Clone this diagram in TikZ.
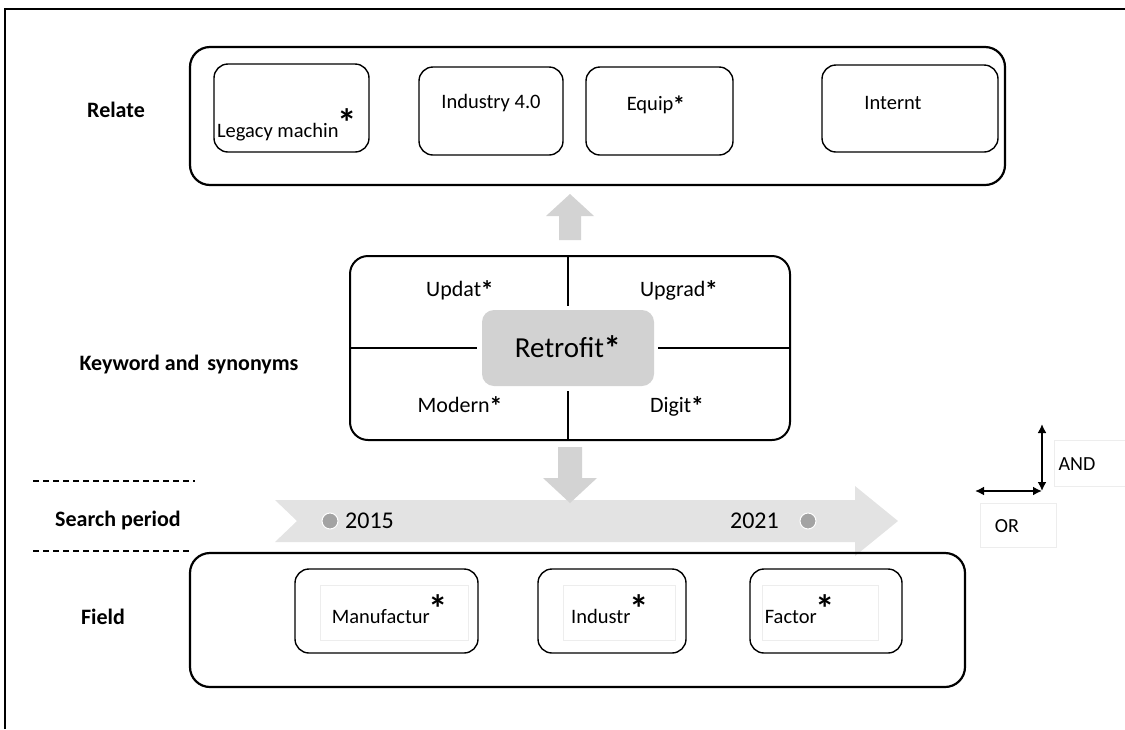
\documentclass[tikz,border=0pt]{standalone}
\usepackage{fontspec}
\setmainfont{Carlito}
\usetikzlibrary{calc,arrows.meta}
\definecolor{arrowgray}{HTML}{D3D3D3}
\definecolor{bandgray}{HTML}{E3E3E3}
\definecolor{retrogray}{HTML}{D2D2D2}
\definecolor{dotgray}{HTML}{A3A3A3}
\definecolor{faint}{HTML}{EDEDED}
\tikzset{
  outerbox/.style={draw, line width=2.2pt, rounded corners=20pt, inner sep=0pt},
  innerbox/.style={draw, line width=1.4pt, rounded corners=14pt, inner sep=0pt},
  faintbox/.style={draw=faint, line width=1pt, inner sep=0pt},
  lbl/.style={font=\fontsize{22}{26}\selectfont\bfseries, inner sep=0pt},
  word/.style={font=\fontsize{20.5}{24}\selectfont, inner sep=0pt},
  kwword/.style={font=\fontsize{22}{26}\selectfont, inner sep=0pt},
  divider/.style={line width=1.6pt},
  blockarrow/.style={fill=arrowgray, draw=none},
  dashline/.style={line width=1.2pt, dash pattern=on 6pt off 4pt},
  dot/.style={circle, fill=dotgray, draw=white, line width=1pt, minimum size=16pt, inner sep=0pt},
  opArrow/.style={<->, >={Latex[length=9pt,width=9pt]}, line width=2pt},
}
\newcommand{\bigst}{\kern-1pt\raisebox{1pt}{\bfseries\scalebox{1.9}{*}}}
\newcommand{\st}{\kern-0.5pt\raisebox{-3pt}{\bfseries\scalebox{1.2}{*}}}
\begin{document}
\begin{tikzpicture}[x=1pt,y=-1pt]
\useasboundingbox (0,0) rectangle (1125,729);
% frame
\draw[line width=2.2pt] (5,729) -- (5,9) -- (1125,9);

% left labels
\node[lbl] (lrelate) at (116,110) {Relate};
\node[lbl] (lkey) at (189,365) {Keyword and\hspace{3pt} synonyms};
\node[lbl] (lsearch) at (118,521) {Search period};
\node[lbl] (lfield) at (103,617) {Field};
\coordinate (d1a) at (33,481); \coordinate (d1b) at (195,481);
\coordinate (d2a) at (33,551); \coordinate (d2b) at (190,551);
\draw[dashline] (d1a) -- (d1b);
\draw[dashline] (d2a) -- (d2b);

% Relate box
\node[outerbox, minimum width=815pt, minimum height=138pt] (relate) at (597.5,116) {};
\node[innerbox, minimum width=155pt, minimum height=88pt] (b1) at (291.5,108) {};
\node[innerbox, minimum width=144pt, minimum height=88pt] (b2) at (491,111) {};
\node[innerbox, minimum width=147pt, minimum height=88pt] (b3) at (659.5,111) {};
\node[innerbox, minimum width=176pt, minimum height=87pt] (b4) at (910,108.5) {};
\node[word, anchor=base] (t1) at (287,137) {Legacy machin\bigst};
\node[word] (t2) at (491,103) {Industry 4.0};
\node[word] (t3) at (656,105) {Equip\st};
\node[word] (t4) at (893,103) {Internt};

% Keyword box
\node[outerbox, line width=2pt, rounded corners=18pt, minimum width=440pt, minimum height=184pt] (kw) at (570,348) {};
\node[fill=retrogray, rounded corners=12pt, minimum width=172pt, minimum height=76pt, inner sep=0pt,
      font=\fontsize{29}{32}\selectfont] (retro) at (568,348) {Retrofit\st};
\coordinate (vtop) at (568,256); \coordinate (vtopend) at (568,306);
\coordinate (vbot) at (568,391); \coordinate (vbotend) at (568,440);
\coordinate (hl) at (350,348); \coordinate (hlend) at (477,348);
\coordinate (hr) at (658,348); \coordinate (hrend) at (790,348);
\draw[divider] (vtop) -- (vtopend);
\draw[divider] (vbot) -- (vbotend);
\draw[divider] (hl) -- (hlend);
\draw[divider] (hr) -- (hrend);
\node[kwword] (k1) at (460,290) {Updat\st};
\node[kwword] (k2) at (679,290) {Upgrad\st};
\node[kwword] (k3) at (460,406) {Modern\st};
\node[kwword] (k4) at (677,406) {Digit\st};

% up arrow
\fill[blockarrow] (559,240) -- (559,216) -- (546,216) -- (570,194) -- (594,216) -- (581,216) -- (581,240) -- cycle;

% timeline band
\fill[bandgray] (275,500) -- (855,500) -- (855,486) -- (898,521) -- (855,556) -- (855,542) -- (275,542) -- (297,521) -- cycle;
% down arrow
\fill[blockarrow] (558,447) -- (582,447) -- (582,478) -- (597,478) -- (570,503) -- (543,478) -- (558,478) -- cycle;
\node[dot] (dot1) at (330,521) {};
\node[dot] (dot2) at (808,521) {};
\node[font=\fontsize{24}{28}\selectfont, inner sep=0pt, anchor=west] (y1) at (345,521) {2015};
\node[font=\fontsize{24}{28}\selectfont, inner sep=0pt, anchor=east] (y2) at (779,521) {2021};

% Field box
\node[outerbox, minimum width=775pt, minimum height=134pt] (field) at (577.5,620) {};
\node[innerbox, minimum width=183pt, minimum height=84pt] (f1) at (386.5,611) {};
\node[innerbox, minimum width=148pt, minimum height=84pt] (f2) at (612,611) {};
\node[innerbox, minimum width=152pt, minimum height=84pt] (f3) at (826,611) {};
\node[faintbox, minimum width=148pt, minimum height=55pt] (ff1) at (394,613) {};
\node[faintbox, minimum width=112pt, minimum height=55pt] (ff2) at (619,613) {};
\node[faintbox, minimum width=116pt, minimum height=55pt] (ff3) at (820,613) {};
\node[word, anchor=base] (g1) at (390,623) {Manufactur\bigst};
\node[word, anchor=base] (g2) at (610,623) {Industr\bigst};
\node[word, anchor=base] (g3) at (800,623) {Factor\bigst};

% AND / OR legend
\node[faintbox, minimum width=72pt, minimum height=46pt] (andbox) at (1090,463) {};
\node[faintbox, minimum width=76pt, minimum height=44pt] (orbox) at (1018,525) {};
\coordinate (andtop) at (1042,424);
\coordinate (corner) at (1042,491);
\coordinate (orleft) at (975,491);
\draw[opArrow] (andtop) -- (corner);
\draw[opArrow] (orleft) -- (corner);
\node[font=\fontsize{20}{24}\selectfont, inner sep=0pt] (andt) at (1077,464) {AND};
\node[font=\fontsize{20}{24}\selectfont, inner sep=0pt] (ort) at (1007,526) {OR};
\end{tikzpicture}
\end{document}
